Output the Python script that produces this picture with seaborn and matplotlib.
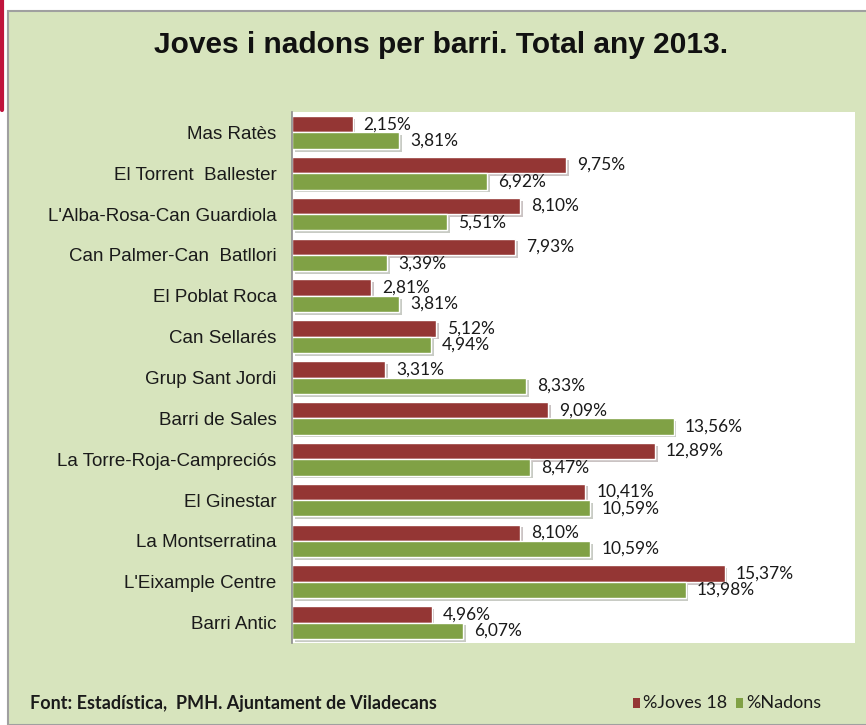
import pandas as pd
import matplotlib
matplotlib.use("Agg")
import matplotlib.pyplot as plt
import matplotlib.patheffects as pe
from matplotlib.patches import Rectangle
import seaborn as sns

# Data
barris = ["Mas Ratès", "El Torrent  Ballester", "L'Alba-Rosa-Can Guardiola",
          "Can Palmer-Can  Batllori", "El Poblat Roca", "Can Sellarés",
          "Grup Sant Jordi", "Barri de Sales", "La Torre-Roja-Campreciós",
          "El Ginestar", "La Montserratina", "L'Eixample Centre", "Barri Antic"]
joves = [2.15, 9.75, 8.10, 7.93, 2.81, 5.12, 3.31, 9.09, 12.89, 10.41, 8.10, 15.37, 4.96]
nadons = [3.81, 6.92, 5.51, 3.39, 3.81, 4.94, 8.33, 13.56, 8.47, 10.59, 10.59, 13.98, 6.07]
series = ["%Joves 18", "%Nadons"]

df = pd.DataFrame({
    "barri": barris * 2,
    "valor": joves + nadons,
    "serie": [series[0]] * len(barris) + [series[1]] * len(barris),
})

colors = {"%Joves 18": "#943634", "%Nadons": "#80A145"}
panel = "#D7E4BD"

sns.set_theme(style="white")
plt.rcParams["font.family"] = ["Liberation Sans", "DejaVu Sans"]

fig = plt.figure(figsize=(8.66, 7.25), dpi=100)
fig.patch.set_facecolor("white")

# green panel behind the chart
fig.patches.append(Rectangle((8 / 866, 0), 1, 1 - 11 / 725, transform=fig.transFigure,
                             facecolor=panel, edgecolor="#A0A0A0", linewidth=1.5, zorder=-5))
fig.lines.append(plt.Line2D([0.002, 0.002], [1, 1 - 110 / 725], transform=fig.transFigure,
                            color="#C0143C", linewidth=3, zorder=-4))

ax = fig.add_axes([292 / 866, 1 - 643 / 725, 563 / 866, 531 / 725])
ax.set_zorder(2)
ax.set_facecolor("white")

sns.barplot(data=df, y="barri", x="valor", hue="serie", palette=colors,
            orient="h", width=0.8, saturation=1, ax=ax, legend=False)

shadow = [pe.SimplePatchShadow(offset=(2, -2), alpha=0.25), pe.Normal()]
for bar in ax.patches:
    bar.set_path_effects(shadow)

for cont in ax.containers:
    labels = [f"{v:.2f}%".replace(".", ",") for v in cont.datavalues]
    ax.bar_label(cont, labels=labels, padding=8, fontsize=12.5,
                 family=["Lato", "DejaVu Sans"], color="#1a1a1a")

ax.set_xlim(0, 20)
ax.set_xlabel("")
ax.set_ylabel("")
ax.set_xticks([])
ax.tick_params(axis="y", length=0, pad=11, labelsize=13.5, labelcolor="#1a1a1a")
for s in ["top", "right", "bottom"]:
    ax.spines[s].set_visible(False)
ax.spines["left"].set_color("#8C8C8C")
ax.spines["left"].set_linewidth(1.2)

fig.text(441 / 866, 1 - 45 / 725, "Joves i nadons per barri. Total any 2013.",
         ha="center", va="center", fontsize=21.5, fontweight="bold", color="#111111")

fig.text(30 / 866, 1 - 703 / 725, "Font: Estadística,  PMH. Ajuntament de Viladecans",
         ha="left", va="center", fontsize=13, fontweight="bold",
         family=["Lato", "DejaVu Sans"], color="#1a1a1a")

# legend
for name, x0 in zip(series, [633, 736]):
    fig.patches.append(Rectangle((x0 / 866, 1 - 708 / 725), 7 / 866, 10 / 725,
                                 transform=fig.transFigure, facecolor=colors[name],
                                 edgecolor="none", zorder=3))
    fig.text((x0 + 10) / 866, 1 - 703 / 725, name, ha="left", va="center",
             fontsize=13, family=["Lato", "DejaVu Sans"], color="#1a1a1a")

fig.savefig("out.png", dpi=100)
